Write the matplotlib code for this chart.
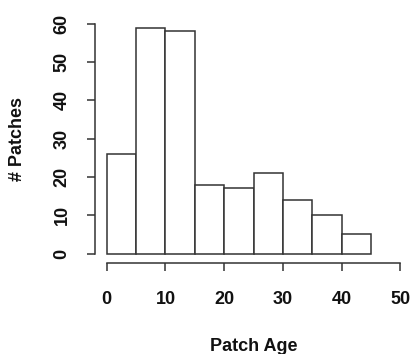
import matplotlib
matplotlib.use("Agg")
import matplotlib.pyplot as plt

# histogram of patch ages (bin width 5)
bin_edges = [0, 5, 10, 15, 20, 25, 30, 35, 40, 45]
counts = [26, 59, 58, 18, 17, 21, 14, 10, 5]
x_ticks = [0, 10, 20, 30, 40, 50]
y_ticks = [0, 10, 20, 30, 40, 50, 60]

plt.rcParams['font.family'] = ['Liberation Sans', 'DejaVu Sans']
plt.rcParams['font.weight'] = 'bold'

W, H = 411, 354
fig = plt.figure(figsize=(W / 100, H / 100), dpi=100)
ax = fig.add_axes([95 / W, (H - 262.7) / H, 317 / W, 248.1 / H])

lefts = bin_edges[:-1]
widths = [b - a for a, b in zip(bin_edges[:-1], bin_edges[1:])]
ax.bar(lefts, counts, width=widths, align='edge', color='white',
       edgecolor='#333333', linewidth=1.1)

ax.set_xlim(-2, 52)
ax.set_ylim(-2.4, 62.4)

for s in ['top', 'right']:
    ax.spines[s].set_visible(False)
ax.spines['left'].set_bounds(0, 60)
ax.spines['bottom'].set_bounds(0, 50)
for s in ['left', 'bottom']:
    ax.spines[s].set_color('#333333')
    ax.spines[s].set_linewidth(1.1)

ax.set_xticks(x_ticks)
ax.set_yticks(y_ticks)
ax.tick_params(axis='both', length=5.5, width=1.1, color='#333333',
               labelsize=13, labelcolor='#111111')
ax.tick_params(axis='x', pad=15)
ax.tick_params(axis='y', pad=12)
for lab in ax.get_yticklabels():
    lab.set_rotation(90)
    lab.set_va('center')

ax.set_xlabel('Patch Age', fontsize=13, fontweight='bold', color='#111111')
ax.xaxis.set_label_coords(0.5, -0.3386)
ax.xaxis.label.set_va('center')
ax.set_ylabel('# Patches', fontsize=13, fontweight='bold', color='#111111')
ax.yaxis.set_label_coords(-0.246, 0.5)
ax.yaxis.label.set_va('center')

fig.savefig('out.png', dpi=100)
